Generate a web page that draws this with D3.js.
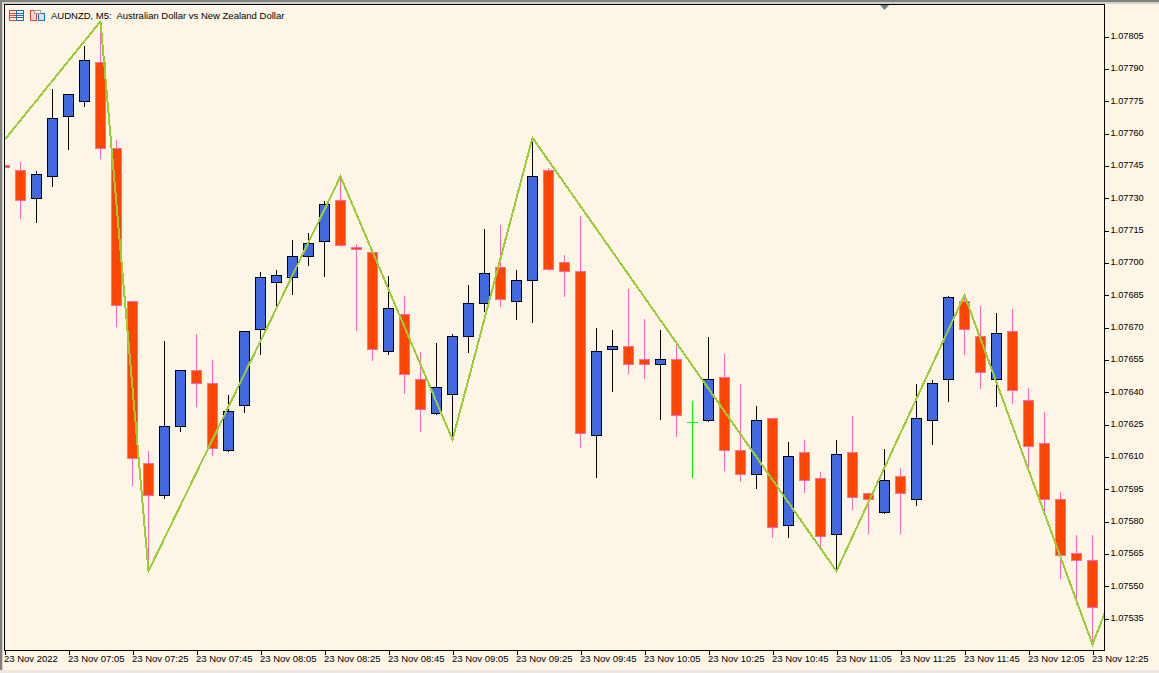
<!DOCTYPE html>
<html>
<head>
<meta charset="utf-8">
<title>AUDNZD M5</title>
<script src="https://cdn.jsdelivr.net/npm/d3@7"></script>
<style>
  html, body { margin: 0; padding: 0; background: #FDF5E6; overflow: hidden; }
  text { font-family: "Liberation Sans", sans-serif; font-size: 9.5px; fill: #000; }
</style>
</head>
<body>
<svg id="chart" width="1159" height="673"></svg>
<script>
// ========================================
// CHART DATA
// ========================================
const title = "AUDNZD, M5:  Australian Dollar vs New Zealand Dollar";

const opens = [
  1.07745, 1.07743, 1.07730, 1.07740, 1.07768, 1.07775, 1.07793, 1.07753, 1.07682, 1.07607,
  1.07592, 1.07624, 1.07650, 1.07644, 1.07613, 1.07634, 1.07669, 1.07691, 1.07693, 1.07703,
  1.07710, 1.07729, 1.07707, 1.07705, 1.07659, 1.07676, 1.07646, 1.07630, 1.07639, 1.07666,
  1.07681, 1.07698, 1.07682, 1.07692, 1.07743, 1.07700, 1.07696, 1.07620, 1.07660, 1.07661,
  1.07655, 1.07653, 1.07655, 1.07626, 1.07627, 1.07647, 1.07613, 1.07602, 1.07628, 1.07578,
  1.07612, 1.07600, 1.07574, 1.07612, 1.07593, 1.07584, 1.07601, 1.07590, 1.07627, 1.07646,
  1.07682, 1.07666, 1.07646, 1.07668, 1.07636, 1.07616, 1.07590, 1.07565, 1.07562
];
const highs = [
  1.07745, 1.07747, 1.07743, 1.07781, 1.07778, 1.07801, 1.07812, 1.07757, 1.07682, 1.07613,
  1.07664, 1.07650, 1.07667, 1.07655, 1.07639, 1.07668, 1.07696, 1.07697, 1.07711, 1.07714,
  1.07729, 1.07740, 1.07709, 1.07705, 1.07694, 1.07685, 1.07659, 1.07663, 1.07667, 1.07690,
  1.07716, 1.07718, 1.07697, 1.07758, 1.07744, 1.07704, 1.07722, 1.07670, 1.07669, 1.07688,
  1.07674, 1.07669, 1.07662, 1.07636, 1.07666, 1.07658, 1.07644, 1.07634, 1.07628, 1.07617,
  1.07618, 1.07603, 1.07618, 1.07629, 1.07593, 1.07614, 1.07605, 1.07644, 1.07646, 1.07685,
  1.07685, 1.07680, 1.07677, 1.07679, 1.07642, 1.07631, 1.07594, 1.07574, 1.07574
];
const lows = [
  1.07744, 1.07721, 1.07719, 1.07736, 1.07753, 1.07773, 1.07749, 1.07671, 1.07597, 1.07557,
  1.07591, 1.07622, 1.07634, 1.07611, 1.07613, 1.07631, 1.07658, 1.07680, 1.07686, 1.07699,
  1.07694, 1.07708, 1.07669, 1.07655, 1.07658, 1.07640, 1.07622, 1.07630, 1.07618, 1.07659,
  1.07678, 1.07680, 1.07674, 1.07673, 1.07697, 1.07685, 1.07615, 1.07601, 1.07641, 1.07649,
  1.07647, 1.07628, 1.07620, 1.07601, 1.07627, 1.07604, 1.07599, 1.07596, 1.07573, 1.07573,
  1.07594, 1.07568, 1.07557, 1.07586, 1.07575, 1.07584, 1.07575, 1.07588, 1.07616, 1.07636,
  1.07658, 1.07642, 1.07634, 1.07635, 1.07605, 1.07584, 1.07554, 1.07542, 1.07523
];
const closes = [
  1.07744, 1.07729, 1.07741, 1.07767, 1.07778, 1.07794, 1.07753, 1.07680, 1.07609, 1.07592,
  1.07624, 1.07650, 1.07644, 1.07614, 1.07631, 1.07668, 1.07693, 1.07694, 1.07703, 1.07709,
  1.07727, 1.07708, 1.07706, 1.07660, 1.07679, 1.07648, 1.07632, 1.07642, 1.07666, 1.07681,
  1.07695, 1.07683, 1.07692, 1.07740, 1.07697, 1.07696, 1.07621, 1.07659, 1.07661, 1.07653,
  1.07653, 1.07655, 1.07629, 1.07626, 1.07646, 1.07613, 1.07602, 1.07627, 1.07577, 1.07610,
  1.07599, 1.07573, 1.07611, 1.07591, 1.07590, 1.07599, 1.07593, 1.07628, 1.07644, 1.07684,
  1.07669, 1.07649, 1.07667, 1.07641, 1.07615, 1.07590, 1.07564, 1.07562, 1.07540
];

// zigzag pivots: bar number and price, the last one sits just past the right edge
const zigzagBars = [0, 6, 9, 21, 28, 33, 52, 60, 68, 69];
const zigzagPrices = [1.07757, 1.07812, 1.07557, 1.07740, 1.07618, 1.07758, 1.07557, 1.07685, 1.07523, 1.07542];

const priceTicks = [
  1.07535, 1.07550, 1.07565, 1.07580, 1.07595, 1.07610, 1.07625, 1.07640, 1.07655, 1.07670,
  1.07685, 1.07700, 1.07715, 1.07730, 1.07745, 1.07760, 1.07775, 1.07790, 1.07805
];
const timeTickBars = [0, 4, 8, 12, 16, 20, 24, 28, 32, 36, 40, 44, 48, 52, 56, 60, 64, 68];
const timeTickLabels = [
  "23 Nov 2022", "23 Nov 07:05", "23 Nov 07:25", "23 Nov 07:45", "23 Nov 08:05", "23 Nov 08:25",
  "23 Nov 08:45", "23 Nov 09:05", "23 Nov 09:25", "23 Nov 09:45", "23 Nov 10:05", "23 Nov 10:25",
  "23 Nov 10:45", "23 Nov 11:05", "23 Nov 11:25", "23 Nov 11:45", "23 Nov 12:05", "23 Nov 12:25"
];

// ========================================
// LAYOUT + SCALES
// ========================================
const frame = { left: 4.5, top: 4.5, right: 1104.5, bottom: 650.5 };

const x = d3.scaleLinear().domain([0, 68]).range([4.5, 1092.5]);
const y = d3.scaleLinear().domain([1.07535, 1.07805]).range([618.5, 36.5]);
const snap = v => Math.floor(v) + 0.5;

const svg = d3.select("#chart");

// window chrome
svg.append("rect").attr("width", 1159).attr("height", 673).attr("fill", "#FDF5E6");
svg.append("rect").attr("width", 1159).attr("height", 2).attr("fill", "#808080");
svg.append("rect").attr("y", 2).attr("width", 1159).attr("height", 2).attr("fill", "#D4D0C8");
svg.append("rect").attr("width", 2).attr("height", 673).attr("fill", "#808080");
svg.append("rect").attr("x", 2).attr("y", 2).attr("width", 1).attr("height", 671).attr("fill", "#D4D0C8");
svg.append("rect").attr("y", 670).attr("width", 1159).attr("height", 3).attr("fill", "#ECE9E2");

svg.append("defs").append("clipPath").attr("id", "plot")
  .append("rect")
  .attr("x", frame.left).attr("y", frame.top)
  .attr("width", frame.right - frame.left).attr("height", frame.bottom - frame.top);

const plot = svg.append("g").attr("clip-path", "url(#plot)").attr("shape-rendering", "crispEdges");

// ========================================
// CANDLES
// ========================================
const bars = d3.range(opens.length);
const isBull = i => closes[i] > opens[i];
const isDoji = i => closes[i] === opens[i];
const wickColor = i => isDoji(i) ? "#00FF00" : isBull(i) ? "#000000" : "#FF69B4";

plot.append("g").selectAll("line")
  .data(bars)
  .enter()
  .append("line")
  .attr("x1", i => x(i)).attr("x2", i => x(i))
  .attr("y1", i => snap(y(highs[i])))
  .attr("y2", i => snap(y(lows[i])) + 1)
  .attr("stroke", wickColor);

plot.append("g").selectAll("rect")
  .data(bars.filter(i => !isDoji(i)))
  .enter()
  .append("rect")
  .attr("x", i => x(i) - 5)
  .attr("width", 10)
  .attr("y", i => snap(y(Math.max(opens[i], closes[i]))))
  .attr("height", i => snap(y(Math.min(opens[i], closes[i]))) - snap(y(Math.max(opens[i], closes[i]))))
  .attr("fill", i => isBull(i) ? "#4169E1" : "#FF4500")
  .attr("stroke", wickColor);

plot.append("g").selectAll("line")
  .data(bars.filter(isDoji))
  .enter()
  .append("line")
  .attr("x1", i => x(i) - 5.5).attr("x2", i => x(i) + 5.5)
  .attr("y1", i => snap(y(opens[i]))).attr("y2", i => snap(y(opens[i])))
  .attr("stroke", "#00FF00");

// ========================================
// ZIGZAG
// ========================================
const zigzag = d3.line().x(d => x(d[0])).y(d => y(d[1]));

plot.append("path")
  .attr("d", zigzag(zigzagBars.map((b, i) => [b, zigzagPrices[i]])))
  .attr("fill", "none")
  .attr("stroke", "#9ACD32")
  .attr("stroke-width", 2);

// ========================================
// FRAME + AXES
// ========================================
svg.append("rect")
  .attr("x", frame.left).attr("y", frame.top)
  .attr("width", frame.right - frame.left).attr("height", frame.bottom - frame.top)
  .attr("fill", "none").attr("stroke", "#000").attr("shape-rendering", "crispEdges");

const priceAxis = d3.axisRight(y)
  .tickValues(priceTicks)
  .tickFormat(d3.format(".5f"))
  .tickSize(4)
  .tickPadding(2);

const timeAxis = d3.axisBottom(x)
  .tickValues(timeTickBars)
  .tickFormat((d, i) => timeTickLabels[i])
  .tickSize(4)
  .tickPadding(1);

svg.append("g")
  .attr("transform", `translate(${frame.right},0)`)
  .call(priceAxis)
  .call(g => g.select(".domain").remove())
  .call(g => g.selectAll("line").attr("shape-rendering", "crispEdges"))
  .call(g => g.selectAll("text")
    .attr("fill", "#000")
    .attr("dy", "0.22em")
    .style("font-size", "9.2px"));

svg.append("g")
  .attr("transform", `translate(0,${frame.bottom})`)
  .call(timeAxis)
  .call(g => g.select(".domain").remove())
  .call(g => g.selectAll("line").attr("shape-rendering", "crispEdges"))
  .call(g => g.selectAll("text")
    .attr("text-anchor", "start")
    .attr("x", -1)
    .attr("fill", "#000")
    .style("font-size", "9.5px"));

// ========================================
// HEADER: icons, title, shift marker
// ========================================
const icons = svg.append("g").attr("shape-rendering", "crispEdges").attr("fill", "none");
icons.append("rect").attr("x", 9.5).attr("y", 10.5).attr("width", 7).attr("height", 10).attr("stroke", "#E8403A").attr("fill", "#FDE8DC");
icons.append("rect").attr("x", 16.5).attr("y", 10.5).attr("width", 7).attr("height", 10).attr("stroke", "#1F6DB5").attr("fill", "#FDF5E6");
[13.5, 15.5, 17.5].forEach(v => {
  icons.append("line").attr("x1", 10).attr("x2", 16).attr("y1", v).attr("y2", v).attr("stroke", "#E8403A");
  icons.append("line").attr("x1", 17).attr("x2", 23).attr("y1", v).attr("y2", v).attr("stroke", "#1F6DB5");
});
icons.append("rect").attr("x", 30.5).attr("y", 10.5).attr("width", 6).attr("height", 10).attr("stroke", "#E8403A").attr("fill", "#FCD9CC");
icons.append("rect").attr("x", 38.5).attr("y", 13.5).attr("width", 6).attr("height", 7).attr("stroke", "#1F6DB5").attr("fill", "#CFE3F5");
icons.append("rect").attr("x", 34.5).attr("y", 10.5).attr("width", 6).attr("height", 3).attr("stroke", "#A0A0A0").attr("fill", "#FDF5E6");

svg.append("text")
  .attr("x", 51)
  .attr("y", 19)
  .attr("xml:space", "preserve")
  .style("white-space", "pre")
  .text(title);

svg.append("path")
  .attr("d", "M880,5 L889,5 L884.5,10 Z")
  .attr("fill", "#708090");
</script>
</body>
</html>
